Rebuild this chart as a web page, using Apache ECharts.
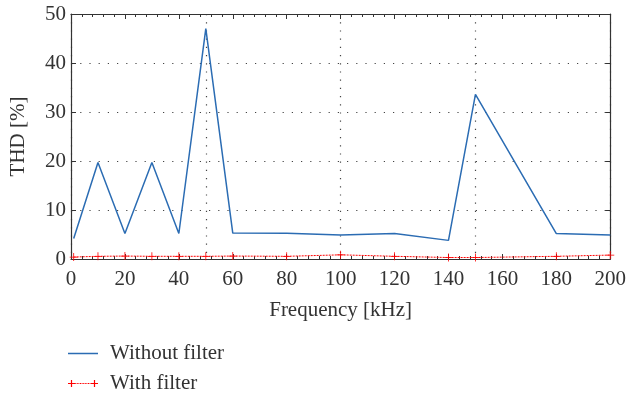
<!DOCTYPE html>
<html>
<head>
<meta charset="utf-8">
<script src="https://cdn.jsdelivr.net/npm/echarts@6/dist/echarts.min.js"></script>
<style>html,body{margin:0;padding:0;background:#fff}#c{width:629px;height:396px}</style>
</head>
<body>
<div id="c"></div>
<script>
const freqs = [1, 10, 20, 30, 40, 50, 60, 80, 100, 120, 140, 150, 180, 200];
const withoutFilter = [4.2, 19.7, 5.2, 19.7, 5.2, 47.0, 5.3, 5.25, 4.9, 5.2, 3.8, 33.6, 5.2, 4.9];
const withFilter = [0.4, 0.55, 0.6, 0.55, 0.55, 0.55, 0.6, 0.55, 0.85, 0.55, 0.3, 0.3, 0.55, 0.8];
const seriesNames = ['Without filter', 'With filter'];
const xTitle = 'Frequency [kHz]';
const yTitle = 'THD [%]';

const FONT = '"Liberation Serif", "DejaVu Serif", serif';
const FS = 21;
const TXT = '#333';
const AX = '#333';
const BLUE = '#2b6cb3';
const RED = '#ff0000';

function plusAt(cx){
  return `M${cx-0.6},1.5H${cx+0.6}V4.4H${cx+3.5}V5.6H${cx+0.6}V8.5H${cx-0.6}V5.6H${cx-3.5}V4.4H${cx-0.6}Z`;
}
let redIcon = 'path://' + plusAt(3.5) + plusAt(26.5);
for (let x = 7.2; x < 22.8; x += 1.6) redIcon += `M${x},4.4H${x+1}V5.6H${x}Z`;
const blueIcon = 'path://M0,0H0.01V0.01ZM0,4.3H30V5.7H0ZM29.99,9.99H30V10Z';

const plusSym = 'path://M4.5,0H5.5V4.5H10V5.5H5.5V10H4.5V5.5H0V4.5H4.5Z';

const chart = echarts.init(document.getElementById('c'), null, {renderer: 'canvas'});
const xy = (xs, ys) => xs.map((x, i) => [x, ys[i]]);

const boxAxisX = (pos) => ({
  type: 'value', position: pos, min: 0, max: 200, interval: 20,
  axisLine: {show: true, onZero: false, lineStyle: {color: AX, width: 1.2}},
  axisTick: {show: true, inside: true, length: 5, lineStyle: {color: AX}},
  minorTick: {show: true, splitNumber: 5, length: 3, lineStyle: {color: AX}},
  splitLine: {show: false}
});
const boxAxisY = (pos) => ({
  type: 'value', position: pos, min: 0, max: 50, interval: 10,
  axisLine: {show: true, onZero: false, lineStyle: {color: AX, width: 1.2}},
  axisTick: {show: true, inside: true, length: 5, lineStyle: {color: AX}},
  splitLine: {show: false}
});

const x0 = boxAxisX('bottom');
Object.assign(x0, {
  name: xTitle, nameLocation: 'middle', nameGap: 41,
  nameTextStyle: {fontFamily: FONT, fontSize: FS, color: TXT},
  axisLabel: {fontFamily: FONT, fontSize: FS, color: TXT, margin: 10}
});
const x1 = boxAxisX('top');
x1.axisLabel = {show: false};
const y0 = boxAxisY('left');
Object.assign(y0, {
  name: yTitle, nameLocation: 'middle', nameGap: 42, nameRotate: 90,
  nameTextStyle: {fontFamily: FONT, fontSize: FS, color: TXT},
  axisLabel: {fontFamily: FONT, fontSize: FS, color: TXT, margin: 5},
  splitLine: {show: true, lineStyle: {color: '#444', width: 1.2, type: [1.2, 8]}}
});
const y1 = boxAxisY('right');
y1.axisLabel = {show: false};

chart.setOption({
  animation: false,
  textStyle: {fontFamily: FONT},
  grid: {left: 68, right: 14, top: 14, bottom: 137, containLabel: false},
  legend: {
    orient: 'vertical', left: 68, top: 343, padding: 0, itemGap: 9,
    itemWidth: 30, itemHeight: 10,
    textStyle: {fontFamily: FONT, fontSize: FS, color: TXT, lineHeight: 20, padding: [0, 0, 0, 7]},
    data: [
      {name: seriesNames[0], icon: blueIcon, itemStyle: {color: BLUE}},
      {name: seriesNames[1], icon: redIcon, itemStyle: {color: RED}}
    ]
  },
  xAxis: [
    x0, x1,
    {
      type: 'value', position: 'bottom', min: 0, max: 200, interval: 50,
      axisLine: {show: false, onZero: false}, axisTick: {show: false}, axisLabel: {show: false},
      splitLine: {show: true, lineStyle: {color: '#444', width: 1.2, type: [1.2, 7]}}
    }
  ],
  yAxis: [y0, y1],
  series: [
    {
      name: seriesNames[0], type: 'line', xAxisIndex: 0, yAxisIndex: 0,
      data: xy(freqs, withoutFilter), symbol: 'none',
      lineStyle: {color: BLUE, width: 1.5}, itemStyle: {color: BLUE}
    },
    {
      name: seriesNames[1], type: 'line', xAxisIndex: 0, yAxisIndex: 0,
      data: xy(freqs, withFilter), symbol: plusSym, symbolSize: 8,
      lineStyle: {color: RED, width: 1, type: [2, 1]}, itemStyle: {color: RED}
    }
  ]
});
</script>
</body>
</html>
